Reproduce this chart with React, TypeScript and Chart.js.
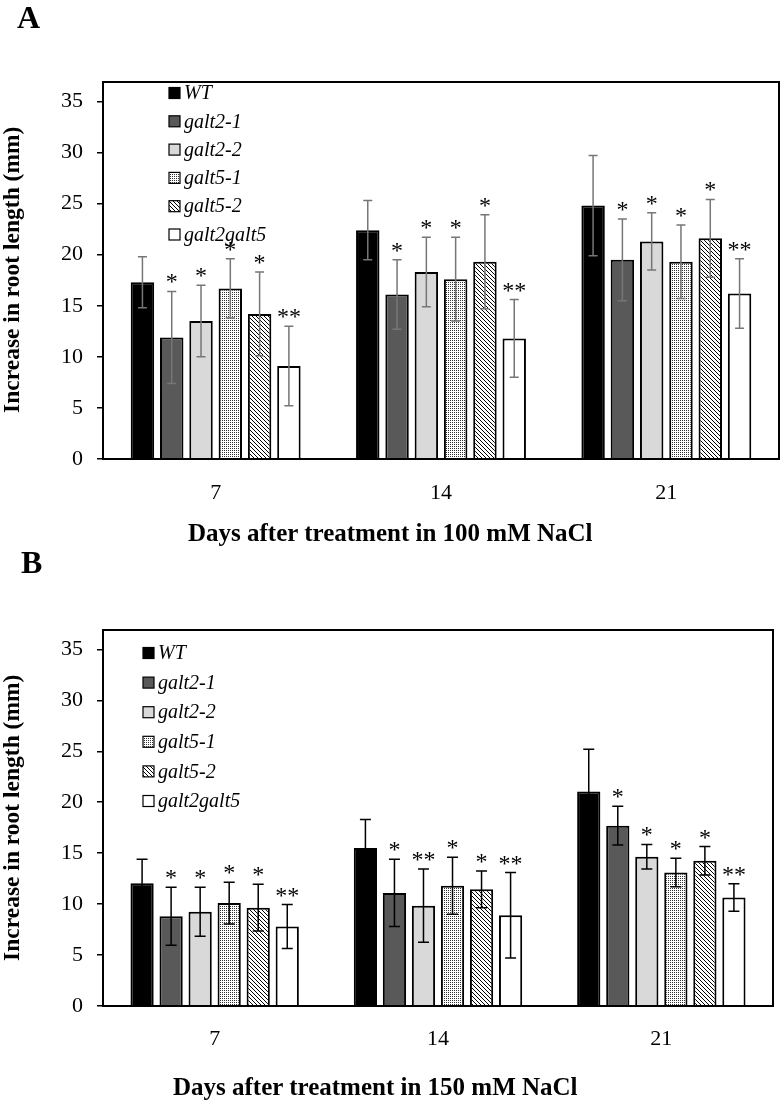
import React, { useEffect, useRef } from 'react';
import { Chart, registerables } from 'chart.js';

Chart.register(...registerables);

const SERIF = "'Liberation Serif', 'Times New Roman', Times, serif";

const days = ['7', '14', '21'];
const genotypes = ['WT', 'galt2-1', 'galt2-2', 'galt5-1', 'galt5-2', 'galt2galt5'];
const yTicks = [0, 5, 10, 15, 20, 25, 30, 35];

// A: 100 mM NaCl, mean increase (mm) at 7 / 14 / 21 days
const wtA = [17.3, 22.4, 24.8];
const galt21A = [11.9, 16.1, 19.5];
const galt22A = [13.5, 18.3, 21.3];
const galt51A = [16.7, 17.6, 19.3];
const galt52A = [14.2, 19.3, 21.6];
const doubleA = [9.1, 11.8, 16.2];

// A: error bars (+/-)
const wtErrA = [2.5, 2.9, 4.9];
const galt21ErrA = [4.5, 3.4, 4.0];
const galt22ErrA = [3.5, 3.4, 2.8];
const galt51ErrA = [2.9, 4.1, 3.6];
const galt52ErrA = [4.1, 4.6, 3.8];
const doubleErrA = [3.9, 3.8, 3.4];

// B: 150 mM NaCl
const wtB = [12.05, 15.5, 21.05];
const galt21B = [8.8, 11.1, 17.7];
const galt22B = [9.25, 9.85, 14.65];
const galt51B = [10.1, 11.8, 13.1];
const galt52B = [9.65, 11.45, 14.25];
const doubleB = [7.8, 8.9, 10.65];

const wtErrB = [2.35, 2.8, 4.15];
const galt21ErrB = [2.85, 3.3, 1.9];
const galt22ErrB = [2.4, 3.6, 1.2];
const galt51ErrB = [2.05, 2.8, 1.4];
const galt52ErrB = [2.3, 1.8, 1.4];
const doubleErrB = [2.15, 4.2, 1.35];

// significance marks
const sigNone = ['', '', ''];
const sigOne = ['*', '*', '*'];
const sigTwo = ['**', '**', '**'];
const sigGalt22B = ['*', '**', '*'];

const meansA = [wtA, galt21A, galt22A, galt51A, galt52A, doubleA];
const errsA = [wtErrA, galt21ErrA, galt22ErrA, galt51ErrA, galt52ErrA, doubleErrA];
const sigsA = [sigNone, sigOne, sigOne, sigOne, sigOne, sigTwo];

const meansB = [wtB, galt21B, galt22B, galt51B, galt52B, doubleB];
const errsB = [wtErrB, galt21ErrB, galt22ErrB, galt51ErrB, galt52ErrB, doubleErrB];
const sigsB = [sigNone, sigOne, sigGalt22B, sigOne, sigOne, sigTwo];

function dotPattern(): CanvasPattern | string {
    const c = document.createElement('canvas');
    c.width = 2;
    c.height = 2;
    const g = c.getContext('2d');
    if (!g) return '#ccc';
    g.fillStyle = '#fff';
    g.fillRect(0, 0, 2, 2);
    g.fillStyle = '#333';
    g.fillRect(0, 0, 1, 1);
    return g.createPattern(c, 'repeat') || '#ccc';
}

function hatchPattern(): CanvasPattern | string {
    const s = 4;
    const c = document.createElement('canvas');
    c.width = s;
    c.height = s;
    const g = c.getContext('2d');
    if (!g) return '#999';
    g.fillStyle = '#fff';
    g.fillRect(0, 0, s, s);
    g.strokeStyle = '#000';
    g.lineWidth = 1;
    g.beginPath();
    g.moveTo(-1, -1); g.lineTo(s + 1, s + 1);
    g.moveTo(-1, s - 1); g.lineTo(1, s + 1);
    g.moveTo(s - 1, -1); g.lineTo(s + 1, 1);
    g.stroke();
    return g.createPattern(c, 'repeat') || '#999';
}

interface PanelProps {
    top: number;
    height: number;
    means: number[][];
    errs: number[][];
    sigs: string[][];
    padTop: number;
    padRight: number;
    xAxisHeight: number;
    xLabelPad: number;
    legendX: number;
    legendY: number;
    legendStep: number;
    errColor: string;
    capHalf: number;
}

const Panel: React.FC<PanelProps> = (p) => {
    const canvasRef = useRef<HTMLCanvasElement>(null);

    useEffect(() => {
        if (!canvasRef.current) return;
        const ctx = canvasRef.current.getContext('2d');
        if (!ctx) return;

        const fills = ['#000000', '#595959', '#d9d9d9', dotPattern(), hatchPattern(), '#ffffff'];

        const decor = {
            id: 'decor',
            afterDatasetsDraw(chart: Chart) {
                const c = chart.ctx;
                const y = chart.scales.y;
                c.save();
                // error bars
                c.strokeStyle = p.errColor;
                c.lineWidth = 1.5;
                p.means.forEach((series, i) => {
                    const meta = chart.getDatasetMeta(i);
                    meta.data.forEach((el, j) => {
                        const x = el.x;
                        const hi = y.getPixelForValue(series[j] + p.errs[i][j]);
                        const lo = y.getPixelForValue(series[j] - p.errs[i][j]);
                        c.beginPath();
                        c.moveTo(x, hi); c.lineTo(x, lo);
                        c.moveTo(x - p.capHalf, hi); c.lineTo(x + p.capHalf, hi);
                        c.moveTo(x - p.capHalf, lo); c.lineTo(x + p.capHalf, lo);
                        c.stroke();
                    });
                });
                // significance stars above the upper cap
                c.fillStyle = '#000';
                c.font = `24px ${SERIF}`;
                c.textAlign = 'center';
                c.textBaseline = 'alphabetic';
                p.means.forEach((series, i) => {
                    const meta = chart.getDatasetMeta(i);
                    meta.data.forEach((el, j) => {
                        const s = p.sigs[i][j];
                        if (!s) return;
                        const hi = y.getPixelForValue(series[j] + p.errs[i][j]);
                        const n = s.length;
                        for (let k = 0; k < n; k++) {
                            c.fillText('*', el.x + (k - (n - 1) / 2) * 12, hi - 2);
                        }
                    });
                });
                c.restore();
            },
            afterDraw(chart: Chart) {
                const c = chart.ctx;
                const a = chart.chartArea;
                c.save();
                c.strokeStyle = '#000';
                c.lineWidth = 2;
                c.strokeRect(a.left, a.top, a.right - a.left, a.bottom - a.top);
                // legend
                c.font = `italic 20px ${SERIF}`;
                c.textBaseline = 'middle';
                c.textAlign = 'left';
                genotypes.forEach((g, i) => {
                    const x = a.left + p.legendX;
                    const cy = a.top + p.legendY + i * p.legendStep;
                    c.fillStyle = fills[i] as string;
                    c.fillRect(x, cy - 5.5, 11, 11);
                    c.lineWidth = 1.2;
                    c.strokeRect(x, cy - 5.5, 11, 11);
                    c.fillStyle = '#000';
                    c.fillText(g, x + 15, cy + 1);
                });
                c.restore();
            },
        };

        const chart = new Chart(ctx, {
            type: 'bar',
            data: {
                labels: days,
                datasets: genotypes.map((g, i) => ({
                    label: g,
                    data: p.means[i],
                    backgroundColor: fills[i],
                    borderColor: '#000',
                    borderWidth: 2,
                    categoryPercentage: 0.78,
                    barPercentage: 0.8,
                })),
            },
            options: {
                responsive: true,
                maintainAspectRatio: false,
                animation: false,
                layout: { padding: { top: p.padTop, right: p.padRight, left: 0, bottom: 0 } },
                plugins: {
                    legend: { display: false },
                    tooltip: { enabled: false },
                },
                scales: {
                    x: {
                        grid: { display: false },
                        border: { display: false },
                        ticks: {
                            color: '#000',
                            font: { family: SERIF, size: 22 },
                            padding: p.xLabelPad,
                        },
                        afterFit: (s: any) => { s.height = p.xAxisHeight; },
                    },
                    y: {
                        min: 0,
                        max: 36.9,
                        afterBuildTicks: (s: any) => { s.ticks = yTicks.map(v => ({ value: v })); },
                        afterFit: (s: any) => { s.width = 103; },
                        grid: {
                            drawOnChartArea: false,
                            drawTicks: true,
                            tickLength: 6,
                            color: '#000',
                            lineWidth: 1.5,
                        },
                        border: { display: false },
                        ticks: {
                            color: '#000',
                            font: { family: SERIF, size: 22 },
                            padding: 14,
                        },
                    },
                },
            },
            plugins: [decor],
        });

        return () => chart.destroy();
    }, [p]);

    return (
        <div style={{ position: 'absolute', left: 0, top: p.top, width: 783, height: p.height }}>
            <canvas ref={canvasRef} style={{ width: '100%', height: '100%' }} />
        </div>
    );
};

const txt: React.CSSProperties = { position: 'absolute', fontFamily: SERIF, lineHeight: 1, color: '#000', whiteSpace: 'nowrap' };

const panelA: PanelProps = {
    top: 0, height: 520, means: meansA, errs: errsA, sigs: sigsA,
    padTop: 82, padRight: 4, xAxisHeight: 61, xLabelPad: 13,
    legendX: 66, legendY: 11, legendStep: 28.3, errColor: '#767676', capHalf: 4.5,
};

const panelB: PanelProps = {
    top: 548, height: 557, means: meansB, errs: errsB, sigs: sigsB,
    padTop: 82, padRight: 10, xAxisHeight: 99, xLabelPad: 12,
    legendX: 40, legendY: 23, legendStep: 29.6, errColor: '#000000', capHalf: 5.5,
};

export default function App() {
    return (
        <div style={{ position: 'absolute', left: 0, top: 0, width: 783, height: 1105, background: '#fff', overflow: 'hidden' }}>
            <Panel {...panelA} />
            <Panel {...panelB} />
            <div style={{ ...txt, left: 17, top: 1, fontSize: 32, fontWeight: 'bold' }}>A</div>
            <div style={{ ...txt, left: 21, top: 546, fontSize: 32, fontWeight: 'bold' }}>B</div>
            <div style={{ ...txt, left: 12 - 200, top: 270 - 11.75, width: 400, textAlign: 'center', fontSize: 23.5, fontWeight: 'bold', transform: 'rotate(-90deg)' }}>
                Increase in root length (mm)
            </div>
            <div style={{ ...txt, left: 12 - 200, top: 818 - 11.75, width: 400, textAlign: 'center', fontSize: 23.5, fontWeight: 'bold', transform: 'rotate(-90deg)' }}>
                Increase in root length (mm)
            </div>
            <div style={{ ...txt, left: 188, top: 520, fontSize: 25, fontWeight: 'bold' }}>Days after treatment in 100 mM NaCl</div>
            <div style={{ ...txt, left: 173, top: 1074, fontSize: 25, fontWeight: 'bold' }}>Days after treatment in 150 mM NaCl</div>
        </div>
    );
}
